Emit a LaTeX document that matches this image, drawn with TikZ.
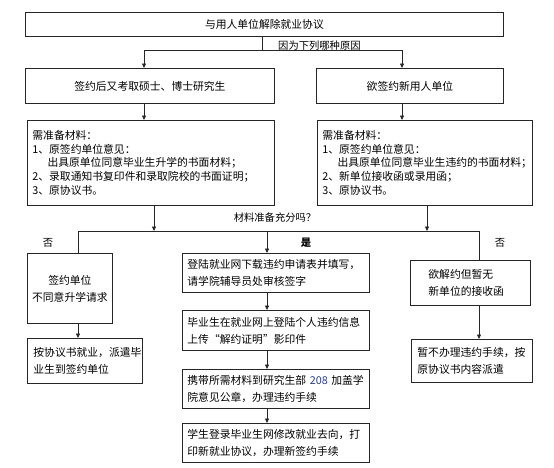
\documentclass[tikz,border=0pt]{standalone}
\usepackage{fontspec}
\setmainfont{Noto Sans CJK SC}
\usetikzlibrary{arrows.meta}
\definecolor{numblue}{RGB}{40,60,140}
\tikzset{
  bx/.style={draw=black!85, line width=0.8pt, rectangle, anchor=north west, inner xsep=5pt, inner ysep=0pt, font=\fontsize{10.8}{17}\selectfont},
  mat/.style={bx, font=\fontsize{10.8}{13.6}\selectfont},
  ln/.style={draw=black!85, line width=0.7pt},
  arr/.style={ln, -{Triangle[length=4.5pt,width=4pt]}},
  lbl/.style={inner sep=0pt, font=\fontsize{10.3}{12}\selectfont}
}
\begin{document}
\begin{tikzpicture}[x=1pt,y=-1pt]
\useasboundingbox (0,0) rectangle (554,467);
% top
\node[bx, minimum width=478, minimum height=24, align=center] (top) at (25,12) {与用人单位解除就业协议};
\coordinate (j1) at (262,50);
\coordinate (jl) at (144,50);
\coordinate (jr) at (402,50);
\node[lbl, anchor=west] (why) at (278,46) {因为下列哪种原因};
% second row
\node[bx, minimum width=249, minimum height=35, align=center] (b2l) at (25,68) {签约后又考取硕士、博士研究生};
\node[bx, minimum width=187, minimum height=35, align=center] (b2r) at (316,68) {欲签约新用人单位};
% materials
\node[mat, minimum width=247, minimum height=85, text width=237, align=left] (ml) at (27,120) {需准备材料：\\1、原签约单位意见：\\\hspace*{1.4em}出具原单位同意毕业生升学的书面材料；\\2、录取通知书复印件和录取院校的书面证明；\\3、原协议书。};
\node[mat, minimum width=215, minimum height=85, text width=205, align=left] (mr) at (317,120) {需准备材料：\\1、原签约单位意见：\\\hspace*{1.4em}出具原单位同意毕业生违约的书面材料；\\2、新单位接收函或录用函；\\3、原协议书。};
\node[lbl, anchor=center] (q) at (275,218) {材料准备充分吗？};
\coordinate (k1) at (154,231);
\coordinate (k2) at (427,231);
\coordinate (kl) at (78,231);
\coordinate (km) at (267,231);
\coordinate (kr) at (479,231);
\node[lbl] (no1) at (48,243) {否};
\node[lbl, font=\fontsize{10.3}{12}\bfseries] (yes) at (306,243) {是};
\node[lbl] (no2) at (500,243) {否};
% left column
\node[bx, minimum width=85, minimum height=70, align=center, inner xsep=2pt] (la) at (27,253) {签约单位\\不同意升学请求};
\node[bx, minimum width=115, minimum height=45, text width=109, inner xsep=3pt, align=left] (lb) at (27,338) {\hspace*{3pt}按协议书就业，派遣毕\\\hspace*{3pt}业生到签约单位};
% middle column
\node[bx, minimum width=187, minimum height=39, text width=177, align=left] (m1) at (182,253) {登陆就业网下载违约申请表并填写，\\请学院辅导员处审核签字};
\node[bx, minimum width=187, minimum height=40, text width=177, align=left] (m2) at (182,310) {毕业生在就业网上登陆个人违约信息\\上传“解约证明”影印件};
\node[bx, minimum width=187, minimum height=39, text width=177, align=left] (m3) at (182,369) {携带所需材料到研究生部 {\color{numblue}208} 加盖学\\院意见公章，办理违约手续};
\node[bx, minimum width=187, minimum height=39, text width=177, align=left] (m4) at (182,423) {学生登录毕业生网修改就业去向，打\\印新就业协议，办理新签约手续};
% right column
\node[bx, minimum width=120, minimum height=45, text width=120, align=left, inner xsep=0pt] (ra) at (410,260) {\hspace*{18pt}欲解约但暂无\\\hspace*{18pt}新单位的接收函};
\node[bx, minimum width=121, minimum height=43, text width=113, inner xsep=4pt, align=left] (rb) at (411,339) {\hspace*{2pt}暂不办理违约手续，按\\\hspace*{2pt}原协议书内容派遣};
% connectors
\draw[ln] (top.south -| j1) -- (j1);
\draw[ln] (jl) -- (jr);
\draw[arr] (jl) -- (jl |- b2l.north);
\draw[arr] (jr) -- (jr |- b2r.north);
\draw[arr] (b2l.south -| jl) -- (ml.north -| jl);
\draw[arr] (b2r.south -| jr) -- (mr.north -| jr);
\draw[arr] (ml.south -| k1) -- (k1);
\draw[arr] (mr.south -| k2) -- (k2);
\draw[ln] (kl) -- (kr);
\draw[ln] (kl) -- (kl |- la.north);
\draw[arr] (km) -- (km |- m1.north);
\draw[ln] (kr) -- (kr |- ra.north);
\draw[arr] (la.south -| kl) -- (lb.north -| kl);
\draw[arr] (m1.south -| km) -- (m2.north -| km);
\draw[arr] (m2.south -| km) -- (m3.north -| km);
\draw[arr] (m3.south -| km) -- (m4.north -| km);
\draw[arr] (ra.south -| kr) -- (rb.north -| kr);
\end{tikzpicture}
\end{document}
